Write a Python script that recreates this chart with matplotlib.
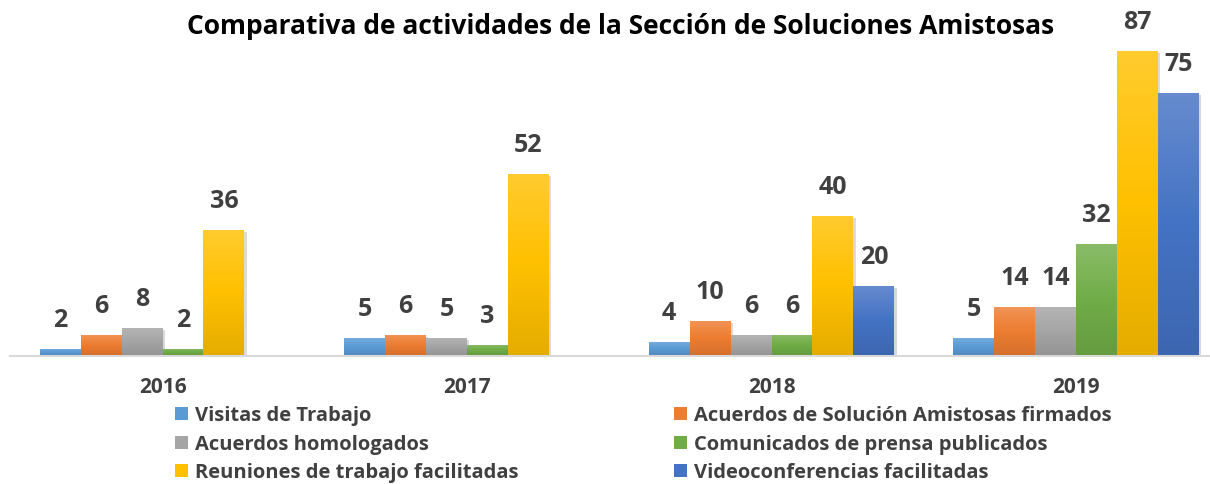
import matplotlib
matplotlib.use("Agg")
import matplotlib.pyplot as plt
import matplotlib.patheffects as pe
from matplotlib.colors import LinearSegmentedColormap, to_rgb
from matplotlib.patches import Rectangle
import numpy as np

plt.rcParams['font.family'] = ['Open Sans', 'DejaVu Sans']
plt.rcParams['font.weight'] = 'bold'

# datos
years = ["2016", "2017", "2018", "2019"]
series = ["Visitas de Trabajo",
          "Acuerdos de Solución Amistosas firmados",
          "Acuerdos homologados",
          "Comunicados de prensa publicados",
          "Reuniones de trabajo facilitadas",
          "Videoconferencias facilitadas"]
visitas = [2, 5, 4, 5]
acuerdos_firmados = [6, 6, 10, 14]
homologados = [8, 5, 6, 14]
comunicados = [2, 3, 6, 32]
reuniones = [36, 52, 40, 87]
videoconf = [0, 0, 20, 75]
values = [visitas, acuerdos_firmados, homologados, comunicados, reuniones, videoconf]
colors = ["#5B9BD5", "#ED7D31", "#A5A5A5", "#70AD47", "#FFC000", "#4472C4"]

txt = "#404040"
W, H = 1210, 485
fig = plt.figure(figsize=(W/100, H/100), dpi=100)
ax = fig.add_axes([10.25/W, (H-356.5)/H, 1218/W, 315/H])

def shade(c, f):
    c = np.array(to_rgb(c))
    if f > 0:
        return tuple(c + (1-c)*f)
    return tuple(c*(1+f))

w = 0.1346
x = np.arange(len(years))
for i, (vals, c) in enumerate(zip(values, colors)):
    cmap = LinearSegmentedColormap.from_list("g", [shade(c, -0.1), c, shade(c, 0.18)])
    grad = np.linspace(0, 1, 64).reshape(-1, 1)
    bars = ax.bar(x + (i-2.5)*w, vals, width=w, color=c, linewidth=0, zorder=2,
                  path_effects=[pe.SimplePatchShadow(offset=(1.5, -1.5), alpha=0.18), pe.Normal()])
    for b, v in zip(bars, vals):
        if v == 0:
            continue
        x0 = b.get_x()
        im = ax.imshow(grad, cmap=cmap, origin='lower', aspect='auto',
                       extent=[x0, x0 + w, 0, v], zorder=3)
        im.set_clip_path(b)
        ax.annotate(str(v), (x0 + w/2, v), xytext=(0, 12), textcoords='offset points',
                    ha='center', va='bottom', fontsize=18, color=txt, fontweight='bold')

ax.set_xlim(-0.5, 3.5)
ax.set_ylim(0, 90)
ax.set_xticks(x)
ax.set_xticklabels(years)
ax.tick_params(axis='x', length=0, pad=15, labelsize=15, labelcolor=txt)
ax.set_yticks([])
for s in ['top', 'left', 'right']:
    ax.spines[s].set_visible(False)
ax.spines['bottom'].set_color("#D9D9D9")
ax.spines['bottom'].set_linewidth(1.5)

fig.text(621/W, 1-34/H, "Comparativa de actividades de la Sección de Soluciones Amistosas",
         ha='center', va='baseline', fontsize=19, color='black', fontweight='bold')

# leyenda
col_x = [175, 674]
row_y = [414, 443, 471]
for i, (name, c) in enumerate(zip(series, colors)):
    cx = col_x[i % 2]
    cy = row_y[i // 2]
    fig.patches.append(Rectangle((cx/W, 1-(cy+6.5)/H), 13/W, 13/H, transform=fig.transFigure,
                                 facecolor=c, edgecolor='none'))
    fig.text((cx+20)/W, 1-cy/H, name, ha='left', va='center_baseline', fontsize=14.5,
             color=txt, fontweight='bold')

fig.savefig("out.png", dpi=100)
